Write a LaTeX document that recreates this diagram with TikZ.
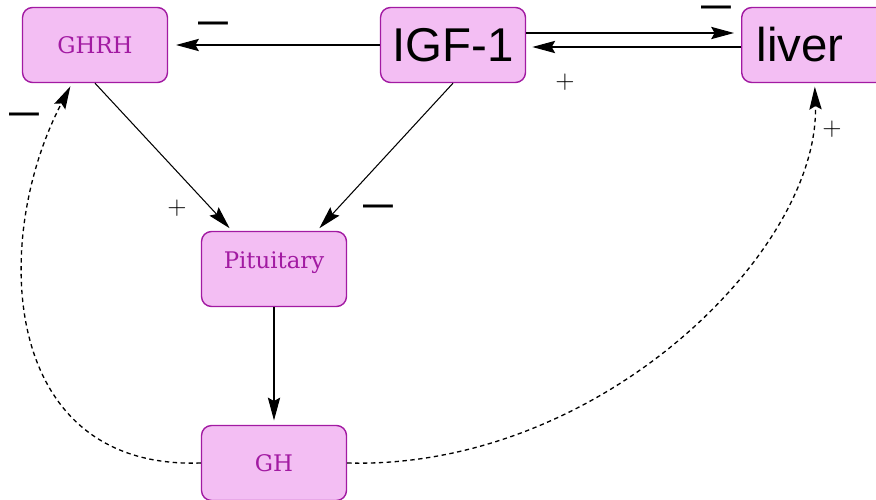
\documentclass[tikz,border=0pt]{standalone}
\usepackage{fontspec}
\setmainfont{DejaVu Serif}
\newfontfamily\boxsans{Liberation Sans}
\usetikzlibrary{arrows.meta}

\definecolor{boxfill}{HTML}{F3BEF3}
\definecolor{boxline}{HTML}{A21AA2}

\tikzstyle{organ}=[draw=boxline, fill=boxfill, line width=0.8pt, rounded corners=0.2cm, minimum width=2.9cm, minimum height=1.5cm, inner sep=0pt, text=boxline, font=\fontsize{13}{13}\selectfont]
\tikzstyle{bigorgan}=[organ, text=black, font=\boxsans\fontsize{27}{27}\selectfont]
\tikzstyle{arr}=[-{Stealth[length=13pt,width=7pt,inset=2pt]}, line width=0.6pt]
\tikzstyle{feedback}=[arr, line width=0.75pt, dash pattern=on 2.5pt off 2pt]
\tikzstyle{minussign}=[font=\boxsans\bfseries\fontsize{17}{17}\selectfont, inner sep=0pt]
\tikzstyle{plussign}=[font=\fontsize{14}{14}\selectfont, inner sep=0pt]

\begin{document}
\begin{tikzpicture}[x=0.02cm, y=-0.02cm]
\useasboundingbox (0,0) rectangle (876,500);

\node[organ](ghrh) at (95, 45) {GHRH};
\node[bigorgan](igf) at (453, 45) {IGF-1};
\node[bigorgan, anchor=west, minimum width=3cm, text width=2.4cm, align=left, inner xsep=0.3cm](liver) at (741, 45) {liver};
\node[organ, text depth=10pt](pit) at (274, 269) {Pituitary};
\node[organ](gh) at (274, 463) {GH};

\draw[arr, shorten >=4.5pt] (igf) -- (ghrh);
\draw[arr, shorten >=4pt] ([yshift=0.24cm]igf.east) -- ([yshift=0.24cm]liver.west);
\draw[arr, shorten >=3.5pt] ([yshift=-0.04cm]liver.west) -- ([yshift=-0.04cm]igf.east);
\draw[arr, shorten >=2pt] (ghrh.south) -- ([xshift=-0.84cm]pit.north);
\draw[arr, shorten >=2pt] (igf.south) -- ([xshift=0.86cm]pit.north);
\draw[arr, shorten >=2.5pt] (pit) -- (gh);

\draw[feedback, shorten >=2pt] (gh.west) .. controls (0,470) and (-10,240) .. ([xshift=-0.46cm]ghrh.south);
\draw[feedback, shorten >=2pt] (gh.east) .. controls (600,470) and (820,250) .. ([xshift=-0.04cm]liver.south);

\node[minussign](m1) at (213, 27) {—};
\node[minussign](m2) at (716, 11) {—};
\node[minussign](m3) at (378, 210) {—};
\node[minussign](m4) at (24, 118) {—};
\node[plussign](p1) at (565, 82) {$+$};
\node[plussign](p2) at (177, 208) {$+$};
\node[plussign](p3) at (832, 129) {$+$};
\end{tikzpicture}
\end{document}
